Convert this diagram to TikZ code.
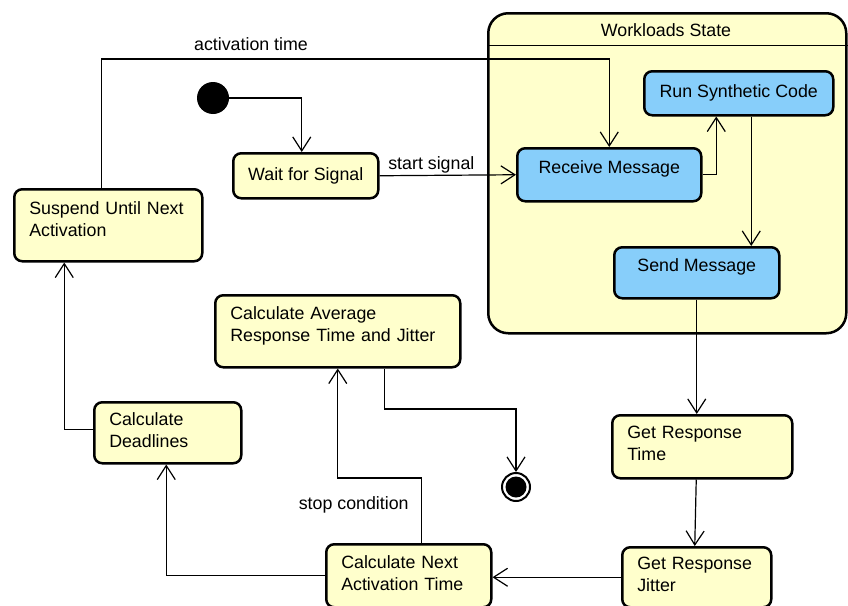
\documentclass[tikz,border=0pt]{standalone}
\usepackage{fontspec}
\setmainfont{Liberation Sans}
\usetikzlibrary{arrows.meta}
\definecolor{stateyellow}{RGB}{255,255,204}
\definecolor{stateblue}{RGB}{135,206,250}
\begin{document}
\begin{tikzpicture}[x=1pt,y=-1pt,
  font=\fontsize{17.8}{22}\selectfont,
  state/.style={draw, line width=2.5pt, rounded corners=8pt, fill=stateyellow,
    anchor=north west, inner ysep=0pt},
  size/.style 2 args={minimum width=#1pt, minimum height=#2pt},
  multi/.style={align=left, inner xsep=15pt, text width=#1pt},
  inner/.style={state, fill=stateblue, align=center},
  conn/.style={line width=1.2pt, -{Straight Barb[length=14pt,width=18pt]}},
  lbl/.style={inner sep=2pt}
]
\useasboundingbox (0,0) rectangle (848,605);

% composite state
\node[state, rounded corners=20pt, size={358}{320}] (ws) at (487,12) {};
\coordinate (hdr) at (0,45);
\draw[line width=1pt] (ws.west |- hdr) -- (ws.east |- hdr);
\node (wstitle) at (666,30) {Workloads State};

% pseudo states
\node[circle, fill=black, minimum size=32pt, inner sep=0pt] (init) at (213,98) {};
\node[circle, draw, line width=2pt, fill=white, minimum size=28pt, inner sep=0pt] (fin) at (516,487) {};
\node[circle, fill=black, minimum size=21pt, inner sep=0pt] (findot) at (fin.center) {};

% states
\node[state, size={145}{45}] (wait) at (232,152) {Wait for Signal};
\node[state, size={188}{72}, multi=158, text depth=34pt] (suspend) at (13,188) {Suspend Until Next\\Activation};
\node[inner, size={184}{53}, text depth=16pt] (receive) at (516,147) {Receive Message};
\node[inner, size={189}{44}] (run) at (643,70) {Run Synthetic Code};
\node[inner, size={165}{51}, text depth=16pt] (send) at (613,246) {Send Message};
\node[state, size={245}{72}, multi=215, text depth=36pt] (avg) at (214,294) {Calculate Average\\Response Time and Jitter};
\node[state, size={147}{61}, multi=117, text depth=28pt] (deadlines) at (93,401) {Calculate\\Deadlines};
\node[state, size={180}{63}, multi=150, text depth=28pt] (grt) at (611,414) {Get Response\\Time};
\node[state, size={165}{63}, multi=135, text depth=28pt] (next) at (325,543) {Calculate Next\\Activation Time};
\node[state, size={149}{60}, multi=119, text depth=27pt] (jitter) at (621,546) {Get Response\\Jitter};

% transitions
\draw[conn] (init.east) -| ([xshift=-4pt]wait.north);
\draw[conn] (wait.east) -- node[lbl, pos=0.38, above] {start signal} (receive.west);
\coordinate (acttop) at (251,59);
\draw[conn] ([xshift=-7pt]suspend.north) |- (acttop)
  node[lbl, above=6pt] {activation time} -| (receive.north);
\draw[conn] (receive.east) -| ([xshift=-22.5pt]run.south);
\draw[conn] ([xshift=12.5pt]run.south) -- ([xshift=12.5pt]run.south |- send.north);
\draw[conn] (send.south) -- (send.south |- grt.north);
\draw[conn] ([xshift=-6pt]grt.south) -- ([xshift=-2pt]jitter.north);
\draw[conn] (jitter.west) -- (jitter.west -| next.east);
\coordinate (stopc) at (380,478);
\draw[conn] ([xshift=12.5pt]next.north) |- node[lbl, pos=0.29, left=10pt] {stop condition} (stopc) -| (avg.south);
\draw[conn] (next.west) -| ([xshift=-1.5pt]deadlines.south);
\draw[conn] ([yshift=3pt]deadlines.west) -| ([xshift=-44pt]suspend.south);
\coordinate (endc) at (450,409);
\draw[conn] ([xshift=46.5pt]avg.south) |- (endc) -| (fin.north);
\end{tikzpicture}
\end{document}
